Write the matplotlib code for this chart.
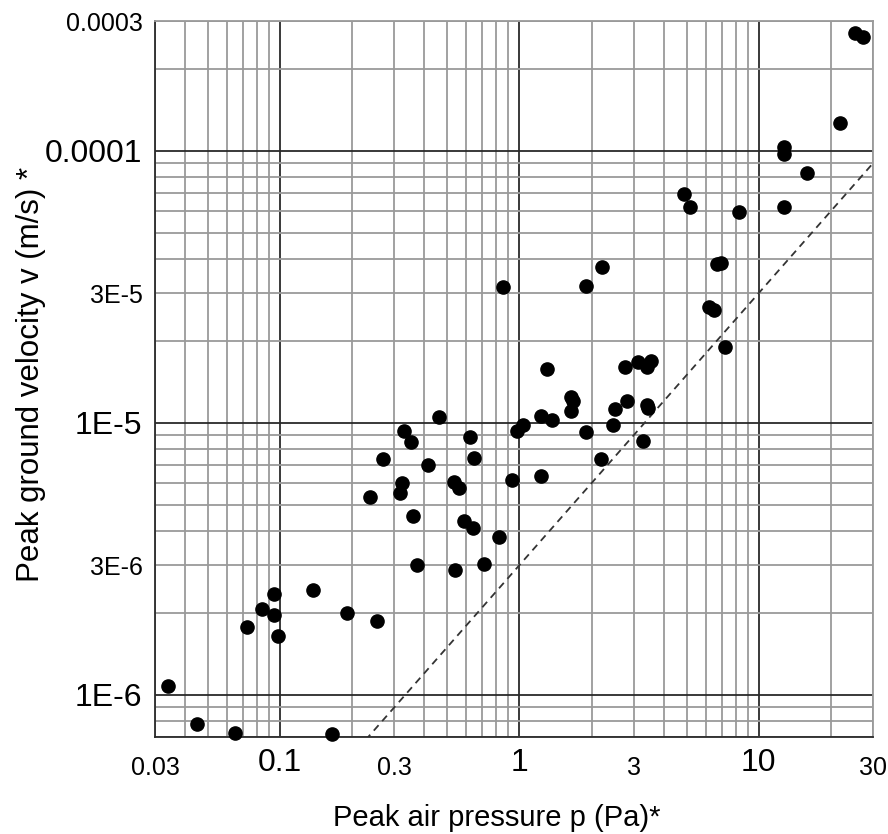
import numpy as np
import matplotlib.pyplot as plt
from matplotlib.ticker import FixedLocator, FixedFormatter

plt.rcParams['font.family'] = ['Liberation Sans', 'DejaVu Sans']

# Peak air pressure (Pa) and peak ground velocity (m/s)
pressure = [0.034, 0.045, 0.065, 0.165, 0.0725, 0.084, 0.094, 0.0945, 0.098, 0.137,
            0.19, 0.253, 0.374, 0.538, 0.713, 0.268, 0.2375, 0.330, 0.352, 0.461,
            0.415, 0.322, 0.317, 0.360, 0.622, 0.646, 0.533, 0.561, 0.589, 0.642,
            0.821, 0.928, 0.974, 1.032, 1.227, 1.372, 1.227, 1.308, 1.638, 1.68,
            1.638, 1.897, 2.186, 2.468, 2.508, 2.807, 2.761, 3.12, 3.402, 3.546,
            3.421, 3.43, 3.293, 25.25, 27.2, 21.86, 12.75, 12.75, 15.96, 12.75,
            4.872, 5.162, 8.272, 6.69, 6.955, 2.214, 1.897, 0.851, 6.216, 6.52, 7.23]
velocity = [1.08e-6, 7.82e-7, 7.25e-7, 7.21e-7, 1.78e-6, 2.07e-6, 2.35e-6, 1.96e-6, 1.64e-6, 2.42e-6,
            2.0e-6, 1.87e-6, 3.0e-6, 2.88e-6, 3.03e-6, 7.34e-6, 5.33e-6, 9.37e-6, 8.49e-6, 1.05e-5,
            7.01e-6, 6.0e-6, 5.54e-6, 4.55e-6, 8.86e-6, 7.43e-6, 6.05e-6, 5.75e-6, 4.35e-6, 4.11e-6,
            3.82e-6, 6.14e-6, 9.37e-6, 9.83e-6, 1.058e-5, 1.023e-5, 6.4e-6, 1.58e-5, 1.243e-5, 1.205e-5,
            1.107e-5, 9.24e-6, 7.37e-6, 9.83e-6, 1.126e-5, 1.205e-5, 1.602e-5, 1.68e-5, 1.602e-5, 1.69e-5,
            1.165e-5, 1.13e-5, 8.61e-6, 2.707e-4, 2.61e-4, 1.264e-4, 1.037e-4, 9.75e-5, 8.28e-5, 6.24e-5,
            6.93e-5, 6.19e-5, 5.97e-5, 3.83e-5, 3.865e-5, 3.755e-5, 3.19e-5, 3.17e-5, 2.677e-5, 2.588e-5, 1.897e-5]

# dashed reference line v = k * p
line_k = 3e-6
line_p = [0.03, 30]

x_lim = (0.03, 30)
y_lim = (7e-7, 3e-4)

x_major = [0.1, 1, 10]
x_major_labels = ['0.1', '1', '10']
x_minor_labeled = [0.03, 0.3, 3, 30]
x_minor_labels = ['0.03', '0.3', '3', '30']
y_major = [1e-6, 1e-5, 1e-4]
y_major_labels = ['1E-6', '1E-5', '0.0001']
y_minor_labeled = [3e-6, 3e-5, 3e-4]
y_minor_labels = ['3E-6', '3E-5', '0.0003']


def minor_grid(lo, hi):
    vals = []
    for e in range(int(np.floor(np.log10(lo))) - 1, int(np.ceil(np.log10(hi))) + 1):
        for m in range(2, 10):
            v = m * 10.0 ** e
            if lo * 0.999 <= v <= hi * 1.001:
                vals.append(v)
    return vals


def minor_formatter(grid_vals, labeled, labels):
    out = []
    for v in grid_vals:
        lab = ''
        for lv, ls in zip(labeled, labels):
            if abs(v / lv - 1) < 1e-6:
                lab = ls
        out.append(lab)
    return FixedFormatter(out)


fig = plt.figure(figsize=(8.88, 8.34), dpi=100)
ax = fig.add_axes([0.1745, 0.1163, 0.8086, 0.8585])
ax.set_xscale('log')
ax.set_yscale('log')
ax.set_xlim(*x_lim)
ax.set_ylim(*y_lim)

xg = minor_grid(*x_lim)
yg = minor_grid(*y_lim)
ax.xaxis.set_major_locator(FixedLocator(x_major))
ax.xaxis.set_major_formatter(FixedFormatter(x_major_labels))
ax.xaxis.set_minor_locator(FixedLocator(xg))
ax.xaxis.set_minor_formatter(minor_formatter(xg, x_minor_labeled, x_minor_labels))
ax.yaxis.set_major_locator(FixedLocator(y_major))
ax.yaxis.set_major_formatter(FixedFormatter(y_major_labels))
ax.yaxis.set_minor_locator(FixedLocator(yg))
ax.yaxis.set_minor_formatter(minor_formatter(yg, y_minor_labeled, y_minor_labels))

ax.grid(which='major', color='#2a2a2a', lw=1.3)
ax.grid(which='minor', color='#9a9a9a', lw=1.3)
ax.set_axisbelow(True)

ax.tick_params(which='both', length=0)
ax.tick_params(axis='x', which='major', labelsize=23, pad=8)
ax.tick_params(axis='x', which='minor', labelsize=18, pad=14)
ax.tick_params(axis='y', which='major', labelsize=23, pad=9)
ax.tick_params(axis='y', which='minor', labelsize=18, pad=9)

for side in ['top', 'right']:
    ax.spines[side].set_color('#9a9a9a')
    ax.spines[side].set_linewidth(1.3)
for side in ['left', 'bottom']:
    ax.spines[side].set_color('#2a2a2a')
    ax.spines[side].set_linewidth(1.3)

lp = np.array(line_p)
ax.plot(lp, line_k * lp, ls=(0, (4, 3)), color='#333333', lw=1.3)

ax.plot(pressure, velocity, 'o', color='black', markersize=9.5, clip_on=False, zorder=5)

ax.set_xlabel('Peak air pressure p (Pa)*', fontsize=21)
ax.set_ylabel('Peak ground velocity v (m/s) *', fontsize=22.5)
ax.xaxis.set_label_coords(0.476, -0.093)
ax.yaxis.set_label_coords(-0.152, 0.506)

fig.savefig('out.png', dpi=100)
